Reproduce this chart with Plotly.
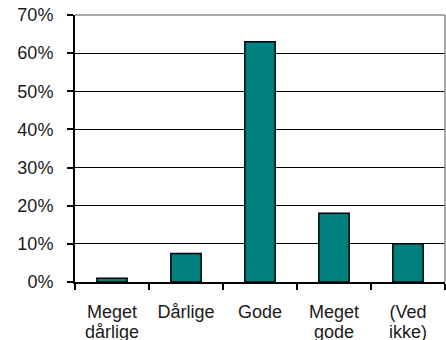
import plotly.graph_objects as go

# Survey answers and their share of respondents (%)
categories = ["Meget dårlige", "Dårlige", "Gode", "Meget gode", "(Ved ikke)"]
label_line1 = ["Meget", "Dårlige", "Gode", "Meget", "(Ved"]
label_line2 = ["dårlige", "", "", "gode", "ikke)"]
shares = [1.0, 7.5, 63.0, 18.0, 10.0]
y_ticks = [0, 10, 20, 30, 40, 50, 60, 70]
y_tick_labels = ["0%", "10%", "20%", "30%", "40%", "50%", "60%", "70%"]

font = dict(family="Liberation Sans, Arial, sans-serif", size=18, color="#1a1a1a")

fig = go.Figure(
    go.Bar(
        x=categories,
        y=shares,
        marker=dict(color="#008080", line=dict(color="#000000", width=1.5)),
    )
)

fig.update_layout(
    width=446,
    height=340,
    margin=dict(l=75, r=1, t=15, b=58),
    paper_bgcolor="white",
    plot_bgcolor="white",
    bargap=0.59,
    showlegend=False,
    font=font,
)

fig.update_xaxes(
    type="category",
    tickvals=categories,
    ticktext=label_line1,
    showline=True,
    linecolor="black",
    linewidth=2,
    ticks="outside",
    tickson="boundaries",
    ticklen=6,
    tickwidth=2,
    tickcolor="black",
    showgrid=False,
    tickfont=font,
    ticklabelstandoff=12,
)

fig.update_yaxes(
    range=[0, 70],
    tickvals=y_ticks,
    ticktext=y_tick_labels,
    showline=True,
    linecolor="black",
    linewidth=2,
    ticks="outside",
    ticklen=6,
    tickwidth=2,
    tickcolor="black",
    showgrid=True,
    gridcolor="black",
    gridwidth=1.3,
    zeroline=False,
    tickfont=font,
    ticklabelstandoff=10,
)

# Second line of the two-word category labels, set a little tighter
for cat, text in zip(categories, label_line2):
    if text:
        fig.add_annotation(x=cat, xref="x", y=0, yref="paper", text=text,
                           showarrow=False, yanchor="middle", yshift=-50,
                           font=font)

# Light grey frame on the top and right of the plotting area
fig.add_shape(type="line", xref="paper", yref="paper", x0=0, x1=1, y0=1, y1=1,
              line=dict(color="#8c8c8c", width=1.5))
fig.add_shape(type="line", xref="paper", yref="paper", x0=1, x1=1, y0=0, y1=1,
              line=dict(color="#8c8c8c", width=1.5))

fig.write_html("out.html")
